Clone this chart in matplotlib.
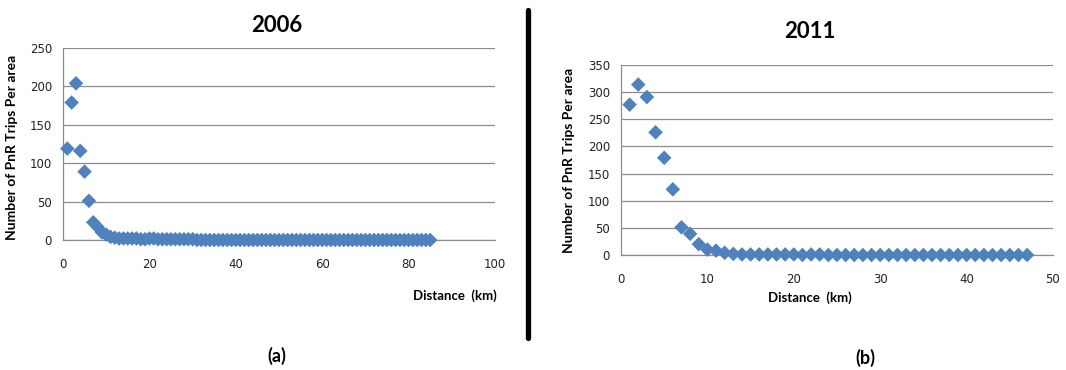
import matplotlib
matplotlib.use("Agg")
import matplotlib.pyplot as plt
from matplotlib.lines import Line2D

# Park-and-Ride trips per area by distance band
dist_2006 = list(range(1, 86))
trips_2006 = [119, 179, 204, 116, 89, 51, 23, 17, 10, 7,
              4, 3, 2, 2, 2, 2, 2, 1, 1, 2,
              2, 1, 1, 1, 1, 1, 1, 1, 1, 1] + [0] * 55

dist_2011 = list(range(1, 48))
trips_2011 = [277, 314, 291, 226, 179, 121, 51, 39, 20, 10,
              8, 4, 2, 1, 1, 1, 1, 1, 1, 1,
              0, 1, 1, 0, 0, 0, 0, 0, 0, 0] + [0] * 17

yticks_2006 = [0, 50, 100, 150, 200, 250]
xticks_2006 = [0, 20, 40, 60, 80, 100]
yticks_2011 = [0, 50, 100, 150, 200, 250, 300, 350]
xticks_2011 = [0, 10, 20, 30, 40, 50]

BLUE = "#4F81BD"
GRID = "#8C8C8C"
TICK_FONT = "DejaVu Sans"
BOLD_FONT = "Lato"

fig = plt.figure(figsize=(10.66, 3.70), dpi=100)

W, H = 1066, 370


def ax_at(left, top, right, bottom):
    return fig.add_axes([left / W, 1 - bottom / H, (right - left) / W, (bottom - top) / H])


def style(ax, xt, yt):
    ax.set_xticks(xt)
    ax.set_yticks(yt)
    ax.set_xlim(xt[0], xt[-1])
    ax.set_ylim(yt[0], yt[-1])
    ax.grid(axis="y", color=GRID, linewidth=0.9)
    ax.set_axisbelow(True)
    for s in ("top", "right"):
        ax.spines[s].set_visible(False)
    for s in ("left", "bottom"):
        ax.spines[s].set_color(GRID)
        ax.spines[s].set_linewidth(0.9)
    ax.tick_params(length=0, labelsize=8.5, colors="#222222")
    ax.tick_params(axis="x", pad=13)
    ax.tick_params(axis="y", pad=8)
    for lab in ax.get_xticklabels() + ax.get_yticklabels():
        lab.set_fontfamily(TICK_FONT)
    ax.set_ylabel("Number of PnR Trips Per area", fontsize=10,
                  fontweight="bold", family=BOLD_FONT)


ax1 = ax_at(63, 48, 495, 240)
ax1.scatter(dist_2006, trips_2006, marker="D", s=55, color=BLUE,
            edgecolors="none", clip_on=False, zorder=3)
style(ax1, xticks_2006, yticks_2006)
ax1.yaxis.set_label_coords(-0.105, 0.48)

ax2 = ax_at(621, 65, 1053, 255)
ax2.scatter(dist_2011, trips_2011, marker="D", s=55, color=BLUE,
            edgecolors="none", clip_on=False, zorder=3)
style(ax2, xticks_2011, yticks_2011)
ax2.yaxis.set_label_coords(-0.107, 0.5)

# Titles, axis captions and panel letters
fig.text(277 / W, 1 - 26 / H, "2006", ha="center", va="center",
         fontsize=16, fontweight="bold", family=BOLD_FONT)
fig.text(810 / W, 1 - 31 / H, "2011", ha="center", va="center",
         fontsize=16, fontweight="bold", family=BOLD_FONT)
fig.text(497 / W, 1 - 296 / H, "Distance  (km)", ha="right", va="center",
         fontsize=9.5, fontweight="bold", family=BOLD_FONT)
fig.text(810 / W, 1 - 298 / H, "Distance  (km)", ha="center", va="center",
         fontsize=9.5, fontweight="bold", family=BOLD_FONT)
fig.text(277 / W, 1 - 356 / H, "(a)", ha="center", va="center",
         fontsize=13, fontweight="bold", family=BOLD_FONT)
fig.text(865 / W, 1 - 358 / H, "(b)", ha="center", va="center",
         fontsize=13, fontweight="bold", family=BOLD_FONT)

# Divider between the two panels
fig.add_artist(Line2D([528 / W, 528 / W], [1 - 10 / H, 1 - 338 / H],
                      transform=fig.transFigure, color="black",
                      linewidth=3.8, solid_capstyle="round"))

fig.savefig("out.png", dpi=100)
